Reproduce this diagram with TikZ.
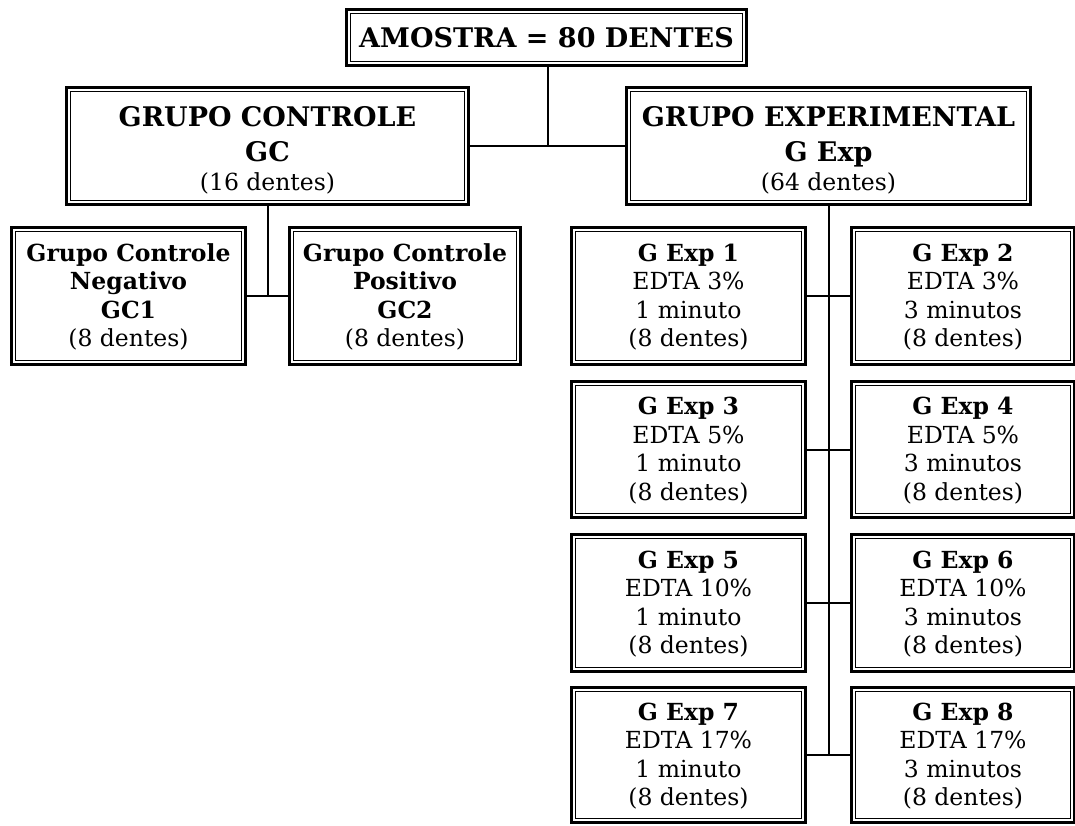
\documentclass[tikz,border=0pt]{standalone}
\usepackage{fontspec}
\setmainfont{DejaVu Serif}
\begin{document}
\begin{tikzpicture}[x=1pt,y=-1pt,
  box/.style={draw=none, outer sep=0pt, inner sep=0pt},
  txt/.style={inner sep=0pt, align=center, font=\fontsize{23.5}{28.5}\selectfont},
  conn/.style={line width=2pt},
  outerline/.style={line width=3.4pt},
  innerline/.style={line width=1pt}]
\useasboundingbox (0,0) rectangle (1075,825);
% box frames
\node[box, minimum width=403pt, minimum height=59pt] (am) at (546.5,37.5) {};
\node[box, minimum width=405pt, minimum height=120pt] (gc) at (267.5,146) {};
\node[box, minimum width=407pt, minimum height=120pt] (ge) at (828.5,146) {};
\node[box, minimum width=237pt, minimum height=140pt] (gc1) at (128.5,296) {};
\node[box, minimum width=234pt, minimum height=140pt] (gc2) at (405,296) {};
\node[box, minimum width=237pt, minimum height=140pt] (e1) at (688.5,296) {};
\node[box, minimum width=226pt, minimum height=140pt] (e2) at (963,296) {};
\node[box, minimum width=237pt, minimum height=139pt] (e3) at (688.5,449.5) {};
\node[box, minimum width=226pt, minimum height=139pt] (e4) at (963,449.5) {};
\node[box, minimum width=237pt, minimum height=140pt] (e5) at (688.5,603) {};
\node[box, minimum width=226pt, minimum height=140pt] (e6) at (963,603) {};
\node[box, minimum width=237pt, minimum height=138pt] (e7) at (688.5,755) {};
\node[box, minimum width=226pt, minimum height=138pt] (e8) at (963,755) {};
% double borders
\foreach \n in {am,gc,ge,gc1,gc2,e1,e2,e3,e4,e5,e6,e7,e8}{
  \draw[outerline] ([shift={(1.7pt,1.7pt)}]\n.south west) rectangle ([shift={(-1.7pt,-1.7pt)}]\n.north east);
  \draw[innerline] ([shift={(5.6pt,5.6pt)}]\n.south west) rectangle ([shift={(-5.6pt,-5.6pt)}]\n.north east);
}
% texts
\node[txt] (amt) at (am.center) {\bfseries\fontsize{27}{28.5}\selectfont AMOSTRA = 80 DENTES};
\node[txt] (gct) at ([yshift=-4pt]gc.center)
  {{\bfseries\fontsize{27}{28.5}\selectfont GRUPO CONTROLE}\\[6.5pt]{\bfseries\fontsize{27}{28.5}\selectfont GC}\\[0.5pt](16 dentes)};
\node[txt] (get) at ([yshift=-4pt]ge.center)
  {{\bfseries\fontsize{27}{28.5}\selectfont GRUPO EXPERIMENTAL}\\[6.5pt]{\bfseries\fontsize{27}{28.5}\selectfont G Exp}\\[0.5pt](64 dentes)};
\node[txt] (gc1t) at ([yshift=-1pt]gc1.center)
  {\textbf{Grupo Controle}\\\textbf{Negativo}\\\textbf{GC1}\\(8 dentes)};
\node[txt] (gc2t) at ([yshift=-1pt]gc2.center)
  {\textbf{Grupo Controle}\\\textbf{Positivo}\\\textbf{GC2}\\(8 dentes)};
\node[txt] (e1t) at ([yshift=-1pt]e1.center) {\textbf{G Exp 1}\\EDTA 3\%\\1 minuto\\(8 dentes)};
\node[txt] (e2t) at ([yshift=-1pt]e2.center) {\textbf{G Exp 2}\\EDTA 3\%\\3 minutos\\(8 dentes)};
\node[txt] (e3t) at ([yshift=-1pt]e3.center) {\textbf{G Exp 3}\\EDTA 5\%\\1 minuto\\(8 dentes)};
\node[txt] (e4t) at ([yshift=-1pt]e4.center) {\textbf{G Exp 4}\\EDTA 5\%\\3 minutos\\(8 dentes)};
\node[txt] (e5t) at ([yshift=-1pt]e5.center) {\textbf{G Exp 5}\\EDTA 10\%\\1 minuto\\(8 dentes)};
\node[txt] (e6t) at ([yshift=-1pt]e6.center) {\textbf{G Exp 6}\\EDTA 10\%\\3 minutos\\(8 dentes)};
\node[txt] (e7t) at ([yshift=-1pt]e7.center) {\textbf{G Exp 7}\\EDTA 17\%\\1 minuto\\(8 dentes)};
\node[txt] (e8t) at ([yshift=-1pt]e8.center) {\textbf{G Exp 8}\\EDTA 17\%\\3 minutos\\(8 dentes)};
% connectors
\coordinate (j) at ([xshift=1.5pt]am.south |- gc.east);
\draw[conn] (gc.east) -- (ge.west);
\draw[conn] ([xshift=1.5pt]am.south) -- (j);
\coordinate (jc) at (gc.south |- gc1.east);
\draw[conn] (gc.south) -- (jc);
\draw[conn] (gc1.east) -- (gc2.west);
\coordinate (je) at (ge.south |- e7.east);
\draw[conn] (ge.south) -- (je);
\draw[conn] (e1.east) -- (e2.west);
\draw[conn] (e3.east) -- (e4.west);
\draw[conn] (e5.east) -- (e6.west);
\draw[conn] (e7.east) -- (e8.west);
\end{tikzpicture}
\end{document}
